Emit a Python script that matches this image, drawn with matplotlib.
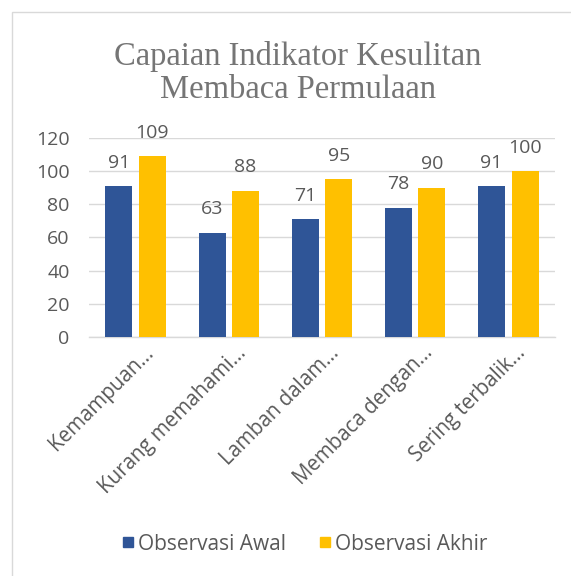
import matplotlib
matplotlib.use("Agg")
import matplotlib.pyplot as plt
from matplotlib.patches import Rectangle
from matplotlib.lines import Line2D
import matplotlib.transforms as mtransforms
import numpy as np

categories = ["Kemampuan...", "Kurang memahami...", "Lamban dalam...",
              "Membaca dengan...", "Sering terbalik..."]
awal = [91, 63, 71, 78, 91]
akhir = [109, 88, 95, 90, 100]
series_names = ["Observasi Awal", "Observasi Akhir"]
yticks = [0, 20, 40, 60, 80, 100, 120]
title = "Capaian Indikator Kesulitan\nMembaca Permulaan"

BLUE = "#2F5597"
YELLOW = "#FFC000"
TXT = "#595959"
GRID = "#D9D9D9"
SANS = ["Open Sans", "DejaVu Sans"]

W, H = 571, 576
fig = plt.figure(figsize=(W / 100, H / 100), dpi=100)

# chart border (only left/top visible)
fig.patches.append(Rectangle((12 / W, -0.1), 1.2, 1 - 12 / H + 0.1,
                             transform=fig.transFigure, fill=False,
                             edgecolor="#D9D9D9", linewidth=1.0))

ax = fig.add_axes([89 / W, (H - 337) / H, (555 - 89) / W, (337 - 138) / H])
x = np.arange(len(categories))
bw = 0.29
off = 0.18
b1 = ax.bar(x - off, awal, bw, color=BLUE, zorder=3)
b2 = ax.bar(x + off, akhir, bw, color=YELLOW, zorder=3)

for bars, vals in ((b1, awal), (b2, akhir)):
    for r, v in zip(bars, vals):
        ax.annotate(str(v), (r.get_x() + r.get_width() / 2, v),
                    xytext=(0, 10.5), textcoords="offset points",
                    ha="center", va="bottom", fontsize=14, color=TXT,
                    family=SANS, zorder=4)

ax.set_xlim(-0.5, 4.5)
ax.set_ylim(0, 120)
ax.set_yticks(yticks)
ax.set_yticklabels([str(t) for t in yticks], family=SANS, fontsize=14, color=TXT)
ax.yaxis.grid(True, color=GRID, linewidth=1.0, zorder=0)
ax.set_axisbelow(True)
ax.tick_params(axis="both", length=0)
ax.tick_params(axis="y", pad=14)
for s in ("top", "right", "left"):
    ax.spines[s].set_visible(False)
ax.spines["bottom"].set_color(GRID)
ax.spines["bottom"].set_linewidth(1.0)

ax.set_xticks(x)
ax.set_xticklabels(categories, rotation=45, ha="right", va="top",
                   rotation_mode="anchor", family=SANS, fontsize=14.8,
                   color=TXT)
ax.tick_params(axis="x", pad=4)
shift = mtransforms.ScaledTranslation(5 / 72, 0, fig.dpi_scale_trans)
for lab in ax.get_xticklabels():
    lab.set_transform(lab.get_transform() + shift)

fig.text(298 / W, 1 - 73 / H, title, ha="center", va="center",
         family=["Liberation Serif", "DejaVu Serif"], fontsize=23.5,
         color="#757575", linespacing=1.13)

handles = [Line2D([], [], marker="s", linestyle="none", markersize=7.5,
                  markerfacecolor=c, markeredgecolor=c) for c in (BLUE, YELLOW)]
leg = fig.legend(handles, series_names, loc="center",
                 bbox_to_anchor=(304 / W, 1 - 544 / H), ncol=2, frameon=False,
                 prop={"family": SANS, "size": 15}, handletextpad=0.15,
                 columnspacing=1.5, handlelength=0.7)
for t in leg.get_texts():
    t.set_color(TXT)

fig.savefig("out.png", dpi=100)
